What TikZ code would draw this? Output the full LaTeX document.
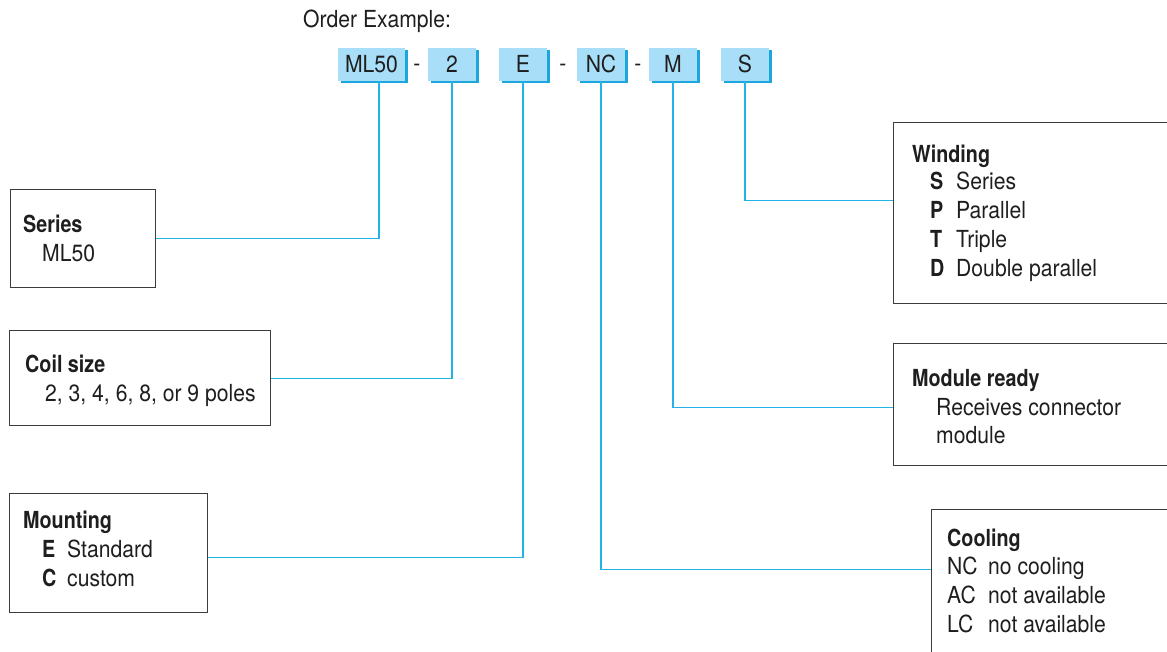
\documentclass[tikz,border=0pt]{standalone}
\usepackage{fontspec}
\setmainfont{TeX Gyre Heros}[FakeStretch=0.9,BoldFeatures={FakeStretch=0.84}]
\usetikzlibrary{shadows}
\definecolor{leadcyan}{RGB}{35,178,232}
\definecolor{codefill}{RGB}{168,222,247}
\definecolor{codeshade}{RGB}{28,166,222}
\definecolor{framegray}{RGB}{60,60,60}
\definecolor{inkgray}{RGB}{30,30,30}
\tikzset{
  codebox/.style={fill=codefill,minimum width=48pt,minimum height=33pt,inner sep=0pt,
    text height=17pt,text depth=0pt,
    general shadow={fill=codeshade,shadow xshift=2.5pt,shadow yshift=-2.5pt}},
  infobox/.style={draw=framegray,line width=1.3pt,anchor=north west,inner sep=0pt},
  lbl/.style={anchor=base west,inner sep=0pt},
  lead/.style={leadcyan,line width=1.3pt},
}
\begin{document}
\begin{tikzpicture}[x=1pt,y=-1pt,font=\fontsize{23.5}{28}\selectfont,text=inkgray]
\useasboundingbox (0,0) rectangle (1167,652);
\clip (0,0) rectangle (1167,652);
% order code
\node[lbl] (title) at (303,28) {Order Example:};
\node[codebox,minimum width=67pt] (cml) at (371.5,64.5) {ML50};
\foreach \x/\n/\t in {452/c2/2,523/ce/E,601/cnc/NC,673/cm/M,745/cs/S}
  \node[codebox] (\n) at (\x,64.5) {\t};
\foreach \x/\n in {417/d1,563/d2,638/d3}
  \node[inner sep=0pt] (\n) at (\x,68) {-};
% option boxes
\node[infobox,minimum width=145pt,minimum height=98pt] (series) at (10,189) {};
\node[infobox,minimum width=261pt,minimum height=95pt] (coil) at (9,330) {};
\node[infobox,minimum width=198pt,minimum height=119pt] (mount) at (9,493) {};
\node[infobox,minimum width=300pt,minimum height=181pt] (wind) at (893,122) {};
\node[infobox,minimum width=300pt,minimum height=122pt] (module) at (893,343) {};
\node[infobox,minimum width=280pt,minimum height=170pt] (cool) at (931,509) {};
% texts
\node[lbl] (seriest) at (23,233) {\textbf{Series}};
\node[lbl] (seriesv) at (42,262) {ML50};
\node[lbl] (coilt) at (25,372) {\textbf{Coil size}};
\node[lbl] (coilv) at (45,401) {2, 3, 4, 6, 8, or 9 poles};
\node[lbl] (mountt) at (23,528) {\textbf{Mounting}};
\foreach \y/\k/\t [count=\i] in {557/E/Standard,586/C/custom}{
  \node[lbl] (mk\i) at (42,\y) {\textbf{\k}};
  \node[lbl] (mv\i) at (67,\y) {\t};}
\node[lbl] (windt) at (912,163) {\textbf{Winding}};
\foreach \y/\k/\t [count=\i] in {190/S/Series,219/P/Parallel,248/T/Triple,277/D/Double parallel}{
  \node[lbl] (wk\i) at (930,\y) {\textbf{\k}};
  \node[lbl] (wv\i) at (956,\y) {\t};}
\node[lbl] (modt) at (912,386) {\textbf{Module ready}};
\node[lbl] (modv1) at (936,415) {Receives connector};
\node[lbl] (modv2) at (936,443) {module};
\node[lbl] (coolt) at (947,546) {\textbf{Cooling}};
\foreach \y/\k/\t [count=\i] in {574/NC/no cooling,603/AC/not available,632/LC/not available}{
  \node[lbl] (ck\i) at (947,\y) {\k};
  \node[lbl] (cv\i) at (988,\y) {\t};}
% leads
\draw[lead] ([xshift=7.5pt]cml.south) |- (series.east);
\draw[lead] (c2.south) |- (coil.east);
\draw[lead] (ce.south) |- ([yshift=-4.5pt]mount.east);
\draw[lead] (cnc.south) |- ([yshift=25pt]cool.west);
\draw[lead] (cm.south) |- ([yshift=-3pt]module.west);
\draw[lead] (cs.south) |- ([yshift=12.5pt]wind.west);
\end{tikzpicture}
\end{document}
